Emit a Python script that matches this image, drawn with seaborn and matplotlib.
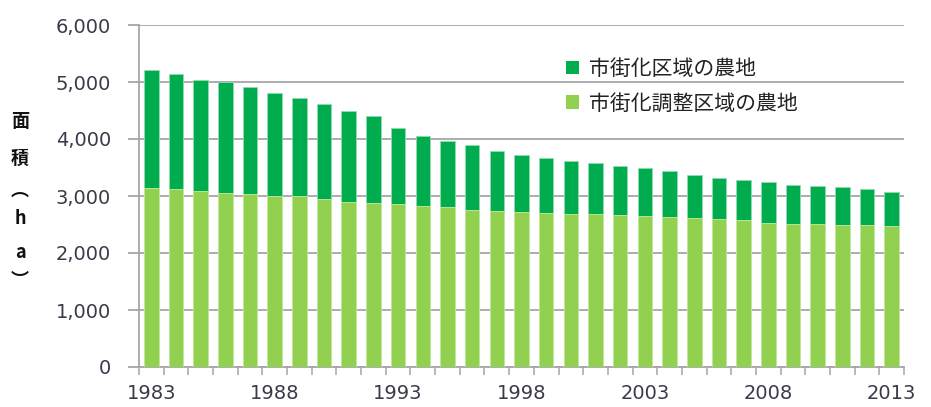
import numpy as np
import pandas as pd
import matplotlib
matplotlib.use("Agg")
import matplotlib.pyplot as plt
from matplotlib.patches import Patch
from matplotlib.ticker import FixedLocator, FuncFormatter
import seaborn as sns

# 農地面積の推移 (ha)
years = [str(y) for y in range(1983, 2014)]
# 市街化調整区域の農地
chousei = [3141, 3118, 3083, 3048, 3030, 3007, 2995, 2954, 2901, 2884,
           2866, 2831, 2806, 2753, 2735, 2718, 2695, 2677, 2677, 2660,
           2642, 2624, 2607, 2589, 2571, 2531, 2513, 2506, 2494, 2494, 2477]
# 市街化区域の農地
shigaika = [2064, 2016, 1958, 1945, 1880, 1799, 1733, 1668, 1593, 1516,
            1333, 1222, 1159, 1136, 1048, 1006, 971, 936, 901, 865,
            841, 806, 770, 728, 711, 711, 676, 665, 659, 624, 601]
series_names = ["市街化区域の農地", "市街化調整区域の農地"]
yticks = [0, 1000, 2000, 3000, 4000, 5000, 6000]
xlabel_years = years[::5]

DARK = "#00AC4E"
LIGHT = "#92D050"
GRID = "#A6A6A6"
TEXT = "#3a3a4a"

sns.set_theme(style="white")
plt.rcParams["font.family"] = ["DejaVu Sans", "Noto Sans CJK JP"]

df = pd.DataFrame({"year": years, "chousei": chousei, "shigaika": shigaika})
df["total"] = df["chousei"] + df["shigaika"]

fig = plt.figure(figsize=(9.31, 4.07), dpi=100)
ax = fig.add_axes([139 / 931, 1 - 367 / 407, (904 - 139) / 931, (367 - 25) / 407])

# stacked bars: full height in dark green, lower part in light green
sns.barplot(data=df, x="year", y="total", color=DARK, saturation=1, width=0.59,
            edgecolor="#8fdcb0", linewidth=0.6, ax=ax, zorder=3)
sns.barplot(data=df, x="year", y="chousei", color=LIGHT, saturation=1, width=0.59,
            edgecolor="#c9ea9f", linewidth=0.6, ax=ax, zorder=4)

ax.set_xlim(-0.5, len(years) - 0.5)
ax.set_ylim(0, 6000)
ax.set_yticks(yticks)
ax.yaxis.set_major_formatter(FuncFormatter(lambda v, p: f"{int(v):,}"))
ax.yaxis.grid(True, color=GRID, linewidth=1.3, zorder=0)
ax.set_axisbelow(True)

ax.set_xticks(range(0, len(years), 5))
ax.set_xticklabels(xlabel_years)
ax.xaxis.set_minor_locator(FixedLocator(np.arange(-0.5, len(years), 1.0)))
ax.tick_params(axis="x", which="major", length=0, pad=12, labelsize=14, labelcolor=TEXT)
ax.tick_params(axis="x", which="minor", length=6, width=1.1, color=GRID, direction="out", bottom=True)
ax.tick_params(axis="y", which="major", length=8, width=1.3, color=GRID, left=True,
               pad=12, labelsize=14, labelcolor=TEXT)
ax.set_xlabel("")
ax.set_ylabel("")

for side in ("top", "right"):
    ax.spines[side].set_visible(False)
for side in ("left", "bottom"):
    ax.spines[side].set_color(GRID)
    ax.spines[side].set_linewidth(1.3)

# vertical axis title, one character per line
ylabel_chars = [("面", 122), ("積", 158), ("︵", 190), ("h", 219), ("a", 253), ("︶", 280)]
for ch, ypx in ylabel_chars:
    fig.text(20 / 931, 1 - ypx / 407, ch, ha="center", va="center", fontsize=13,
             fontweight="bold", color="#111111", family=["Noto Sans CJK JP", "DejaVu Sans"])

handles = [Patch(facecolor=DARK, edgecolor="none"), Patch(facecolor=LIGHT, edgecolor="none")]
leg = ax.legend(handles, series_names, loc="upper left",
                bbox_to_anchor=((566 - 139) / (904 - 139), 1 - (58 - 25) / (367 - 25)),
                frameon=False, handlelength=0.62, handleheight=0.62, handletextpad=0.5,
                labelspacing=0.6, borderpad=0, borderaxespad=0,
                prop={"family": ["Noto Sans CJK JP"], "size": 15})
for t in leg.get_texts():
    t.set_color("#222222")

fig.savefig("out.png", dpi=100)
